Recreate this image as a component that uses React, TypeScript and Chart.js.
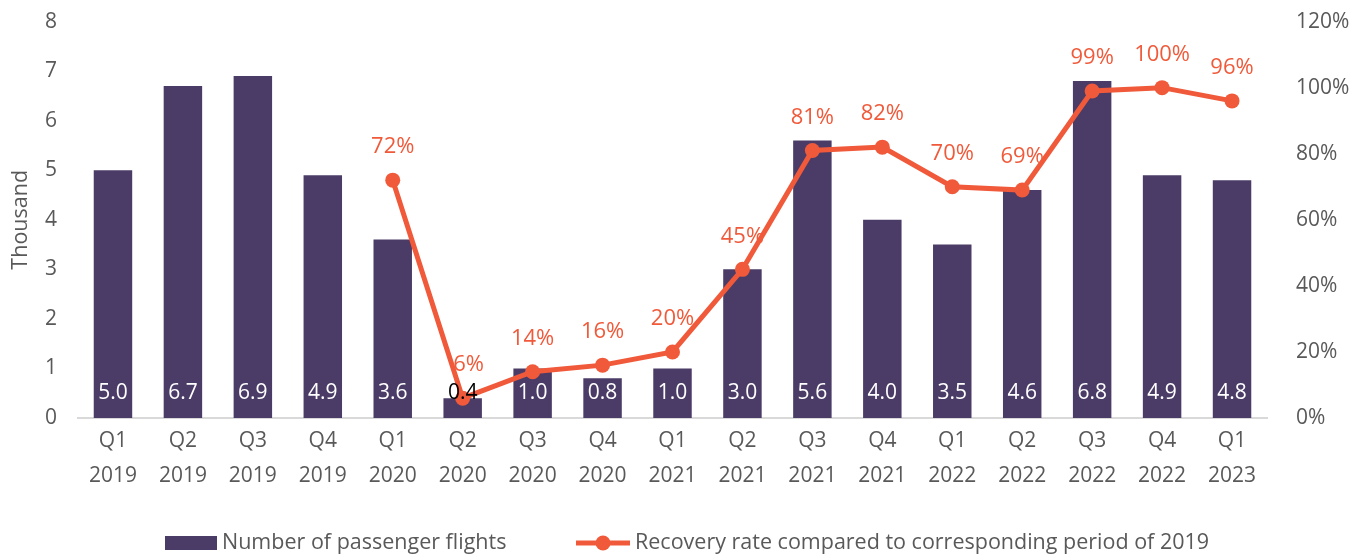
import React, { useEffect, useRef } from "react";
import { Chart, registerables } from "chart.js";

Chart.register(...registerables);

const categories: string[][] = [
  ["Q1", "2019"], ["Q2", "2019"], ["Q3", "2019"], ["Q4", "2019"],
  ["Q1", "2020"], ["Q2", "2020"], ["Q3", "2020"], ["Q4", "2020"],
  ["Q1", "2021"], ["Q2", "2021"], ["Q3", "2021"], ["Q4", "2021"],
  ["Q1", "2022"], ["Q2", "2022"], ["Q3", "2022"], ["Q4", "2022"],
  ["Q1", "2023"],
];
const flights: number[] = [5.0, 6.7, 6.9, 4.9, 3.6, 0.4, 1.0, 0.8, 1.0, 3.0, 5.6, 4.0, 3.5, 4.6, 6.8, 4.9, 4.8];
const recovery: (number | null)[] = [null, null, null, null, 72, 6, 14, 16, 20, 45, 81, 82, 70, 69, 99, 100, 96];
const flightLabel = "Number of passenger flights";
const recoveryLabel = "Recovery rate compared to corresponding period of 2019";
const leftTitle = "Thousand";

const PURPLE = "#4B3C67";
const ORANGE = "#F05A3A";
const GREY = "#595959";
const FONT = "'Open Sans', 'Noto Sans', sans-serif";

const CANVAS_H = 578;
const SHIFT = 20;

const labelPlugin = {
  id: "valueLabels",
  afterDatasetsDraw(chart: any) {
    const ctx = chart.ctx;
    ctx.save();
    ctx.textAlign = "center";
    ctx.textBaseline = "middle";
    ctx.font = `21px ${FONT}`;
    const barMeta = chart.getDatasetMeta(0);
    const yScale = chart.scales.y;
    barMeta.data.forEach((el: any, i: number) => {
      const v = flights[i];
      ctx.fillStyle = v < 0.6 ? "#000000" : "#FFFFFF";
      ctx.fillText(v.toFixed(1), el.x, yScale.getPixelForValue(0) - 25);
    });
    const lineMeta = chart.getDatasetMeta(1);
    ctx.font = `22px ${FONT}`;
    ctx.fillStyle = ORANGE;
    lineMeta.data.forEach((el: any, i: number) => {
      const v = recovery[i];
      if (v === null || v === undefined) return;
      ctx.fillText(`${v}%`, el.x + (v < 10 ? 6 : 0), el.y - 33);
    });
    ctx.restore();
  },
  afterDraw(chart: any) {
    const ctx = chart.ctx;
    ctx.save();
    const y = 543 + SHIFT;
    ctx.fillStyle = PURPLE;
    ctx.fillRect(165, y - 7, 52, 14);
    ctx.font = `21.5px ${FONT}`;
    ctx.textBaseline = "middle";
    ctx.textAlign = "left";
    ctx.fillStyle = GREY;
    ctx.fillText(flightLabel, 222, y);
    ctx.strokeStyle = ORANGE;
    ctx.lineWidth = 5;
    ctx.beginPath();
    ctx.moveTo(576, y);
    ctx.lineTo(630, y);
    ctx.stroke();
    ctx.fillStyle = ORANGE;
    ctx.beginPath();
    ctx.arc(603, y, 7.5, 0, Math.PI * 2);
    ctx.fill();
    ctx.fillStyle = GREY;
    ctx.fillText(recoveryLabel, 635, y);
    ctx.restore();
  },
};

export default function App() {
  const ref = useRef<HTMLCanvasElement>(null);
  useEffect(() => {
    if (!ref.current) return;
    const chart = new Chart(ref.current, {
      type: "bar",
      data: {
        labels: categories,
        datasets: [
          {
            type: "bar",
            label: flightLabel,
            data: flights,
            backgroundColor: PURPLE,
            barPercentage: 0.55,
            categoryPercentage: 1,
            yAxisID: "y",
            order: 2,
          },
          {
            type: "line",
            label: recoveryLabel,
            data: recovery,
            borderColor: ORANGE,
            backgroundColor: ORANGE,
            borderWidth: 5,
            pointRadius: 7.5,
            pointHoverRadius: 7.5,
            pointBackgroundColor: ORANGE,
            pointBorderWidth: 0,
            tension: 0,
            spanGaps: false,
            yAxisID: "y1",
            order: 1,
          } as any,
        ],
      },
      options: {
        animation: false,
        responsive: false,
        maintainAspectRatio: false,
        layout: { padding: { top: 0, bottom: 40, left: 0, right: 0 } },
        plugins: { legend: { display: false }, tooltip: { enabled: false } },
        scales: {
          x: {
            grid: { display: false, drawTicks: false },
            border: { display: true, color: "#D9D9D9", width: 2 },
            ticks: {
              color: GREY,
              font: { family: FONT, size: 21, lineHeight: 1.67 },
              padding: 5,
              maxRotation: 0,
              autoSkip: false,
            },
            afterFit: (s: any) => { s.height = 100; },
          },
          y: {
            position: "left",
            min: 0,
            max: 8,
            grid: { display: false, drawTicks: false },
            border: { display: false },
            ticks: {
              stepSize: 1,
              color: GREY,
              font: { family: FONT, size: 21 },
              padding: 21,
            },
            title: {
              display: true,
              text: leftTitle,
              color: GREY,
              font: { family: FONT, size: 21.5 },
              padding: { top: 8, bottom: 0 },
            },
            afterFit: (s: any) => { s.width = 78; },
          },
          y1: {
            position: "right",
            min: 0,
            max: 120,
            grid: { display: false, drawTicks: false },
            border: { display: false },
            ticks: {
              stepSize: 20,
              color: GREY,
              font: { family: FONT, size: 21 },
              padding: 29,
              callback: (v: any) => `${v}%`,
            },
            afterFit: (s: any) => { s.width = 88; },
          },
        },
      },
      plugins: [labelPlugin],
    });
    return () => chart.destroy();
  }, []);
  return (
    <div style={{ position: "absolute", left: 0, top: 0, width: 1355, height: 558, overflow: "hidden" }}>
      <canvas
        ref={ref}
        width={1355}
        height={CANVAS_H}
        style={{ position: "absolute", left: 0, top: -SHIFT, width: 1355, height: CANVAS_H }}
      />
    </div>
  );
}
